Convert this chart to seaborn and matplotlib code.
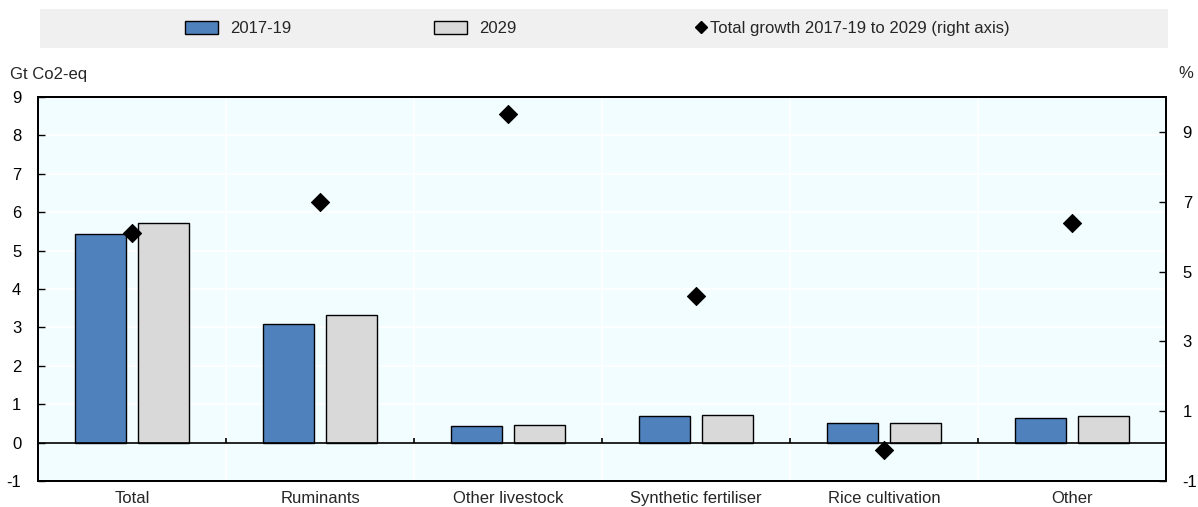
import numpy as np
import pandas as pd
import matplotlib
matplotlib.use("Agg")
import matplotlib.pyplot as plt
import seaborn as sns
from matplotlib.patches import Patch, Rectangle
from matplotlib.lines import Line2D

# Agricultural greenhouse gas emissions by source (Gt CO2-eq) and growth (%)
categories = ["Total", "Ruminants", "Other livestock", "Synthetic fertiliser",
              "Rice cultivation", "Other"]
emissions_2017_19 = [5.42, 3.10, 0.42, 0.70, 0.52, 0.65]
emissions_2029 = [5.73, 3.31, 0.47, 0.73, 0.52, 0.70]
growth_pct = [6.1, 7.0, 9.5, 4.3, -0.1, 6.4]
series_labels = ["2017-19", "2029"]
growth_label = "Total growth 2017-19 to 2029 (right axis)"
left_ticks = list(range(-1, 10))
right_ticks = [-1, 1, 3, 5, 7, 9]

BLUE = "#4F81BD"
GREY = "#D9D9D9"
FS = 12

sns.set_theme(style="white")
plt.rcParams["font.family"] = ["Liberation Sans", "DejaVu Sans"]
plt.rcParams["axes.unicode_minus"] = False

df = pd.DataFrame({
    "category": categories * 2,
    "period": [series_labels[0]] * len(categories) + [series_labels[1]] * len(categories),
    "value": emissions_2017_19 + emissions_2029,
})

W, H = 1198, 507
fig = plt.figure(figsize=(W / 100, H / 100), dpi=100)
ax = fig.add_axes([38 / W, 26 / H, 1128 / W, 384 / H])
ax.set_facecolor("#F2FDFF")

sns.barplot(data=df, x="category", y="value", hue="period", order=categories,
            hue_order=series_labels, palette=[BLUE, GREY], saturation=1,
            width=0.67, gap=0.2, edgecolor="black", linewidth=1,
            errorbar=None, legend=False, ax=ax, zorder=3)

n = len(categories)
bounds = np.arange(n - 1) + 0.5
ax.set_xlim(-0.5, n - 0.5)
ax.set_ylim(-1, 9)
ax.set_yticks(left_ticks)
ax.set_xticks(range(n))
ax.set_xticklabels(categories)
ax.set_xticks(bounds, minor=True)
ax.set_xlabel("")
ax.set_ylabel("")

ax.grid(True, axis="y", which="major", color="white", linewidth=1.3, zorder=0)
ax.grid(True, axis="x", which="minor", color="white", linewidth=1.3, zorder=0)
ax.grid(False, axis="x", which="major")
ax.set_axisbelow(True)

ax.axhline(0, color="black", linewidth=1.2, zorder=4)
ax.vlines(bounds, 0, 0.13, color="black", linewidth=1.2, zorder=4)

ax.tick_params(axis="x", which="both", length=0, pad=7, labelsize=FS)
ax.tick_params(axis="y", direction="in", length=5, width=1, pad=12,
               labelsize=FS, colors="black", left=True)

for sp in ax.spines.values():
    sp.set_visible(True)
    sp.set_color("black")
    sp.set_linewidth(1.4)

ax2 = ax.twinx()
ax2.set_ylim(-1, 10)
ax2.set_yticks(right_ticks)
sns.scatterplot(x=np.arange(n), y=growth_pct, marker="D", color="black",
                edgecolor="black", s=85, legend=False, ax=ax2, zorder=5)
ax2.grid(False)
ax2.set_ylabel("")
ax2.tick_params(axis="y", direction="in", length=5, width=1, pad=12,
                labelsize=FS, colors="black", right=True)
for sp in ax2.spines.values():
    sp.set_visible(True)
    sp.set_color("black")
    sp.set_linewidth(1.4)

fig.text(10 / W, 1 - 74 / H, "Gt Co2-eq", ha="left", va="center", fontsize=FS)
fig.text(1186 / W, 1 - 74 / H, "%", ha="center", va="center", fontsize=FS)

# Legend band
fig.patches.append(Rectangle((40 / W, 1 - 48 / H), 1128 / W, 39 / H,
                             transform=fig.transFigure, facecolor="#F0F0F0",
                             edgecolor="none", zorder=0))

legend_y = 1 - 28.5 / H
common = dict(loc="center left", frameon=False, fontsize=FS, borderpad=0,
              borderaxespad=0)
fig.legend(handles=[Patch(facecolor=BLUE, edgecolor="black", linewidth=1)],
           labels=[series_labels[0]], bbox_to_anchor=(185 / W, legend_y),
           handlelength=2.0, handleheight=0.85, handletextpad=0.7, **common)
fig.legend(handles=[Patch(facecolor=GREY, edgecolor="black", linewidth=1)],
           labels=[series_labels[1]], bbox_to_anchor=(434 / W, legend_y),
           handlelength=2.0, handleheight=0.85, handletextpad=0.7, **common)
fig.legend(handles=[Line2D([], [], marker="D", color="black", linestyle="none",
                           markersize=6)],
           labels=[growth_label], bbox_to_anchor=(697 / W, legend_y),
           handlelength=0.5, handletextpad=0.3, **common)

fig.savefig("out.png", dpi=100)
